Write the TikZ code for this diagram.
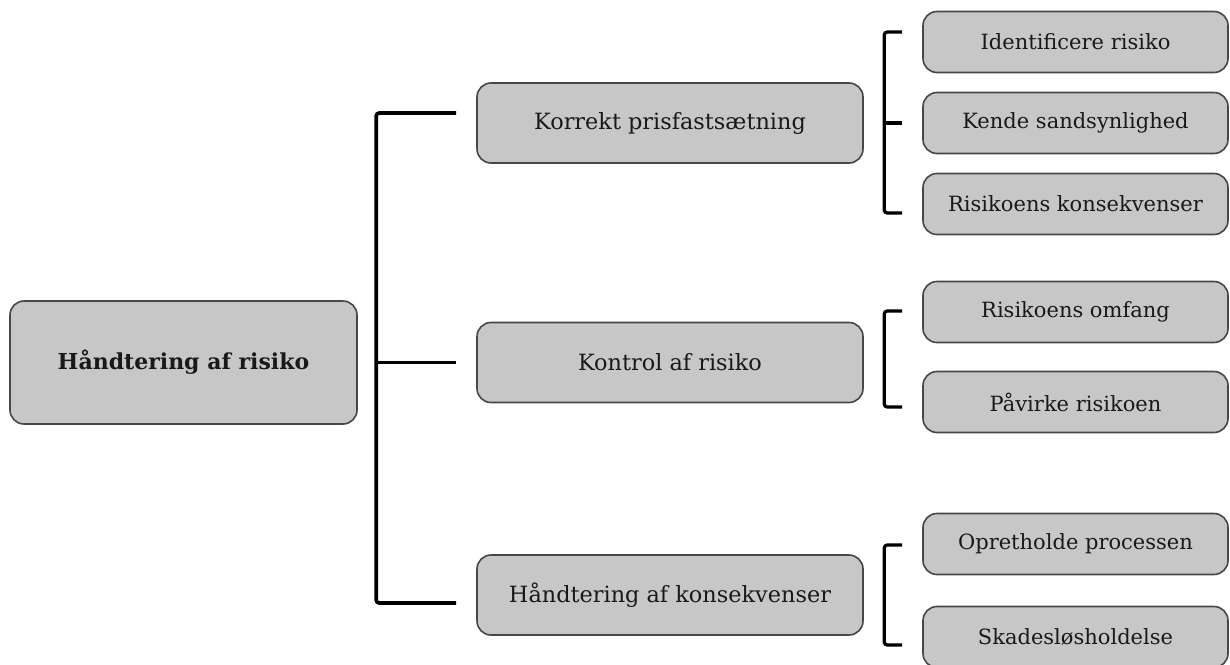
\documentclass[tikz,border=0pt]{standalone}
\usepackage{fontspec}
\setmainfont{DejaVu Serif}
\usepackage{xcolor}
\definecolor{boxgray}{rgb}{0.78, 0.78, 0.78}
\definecolor{edgegray}{rgb}{0.28, 0.28, 0.28}
\newcommand\bcol{boxgray}

\begin{document}
\begin{tikzpicture}[
    x=0.5pt, y=-0.5pt,
    box/.style={draw=edgegray, fill=\bcol, line width=0.8pt, rounded corners=7pt, align=center, inner sep=0pt, text=black!90},
    rootbox/.style={box, minimum width=173.5pt, minimum height=61.5pt, font=\fontsize{11}{14}\selectfont\bfseries},
    midbox/.style={box, minimum width=193pt, minimum height=40pt, font=\fontsize{11.2}{14}\selectfont},
    leafbox/.style={box, minimum width=152.5pt, minimum height=30.5pt, font=\fontsize{10.5}{13}\selectfont},
    bracket/.style={draw=black, line width=1.6pt, rounded corners=1.5pt}
  ]
    \useasboundingbox (0,0) rectangle (1230,664);

    \node[rootbox] (root) at (183.5, 362.5) {Håndtering af risiko};

    \node[midbox] (korrekt) at (670, 123) {Korrekt prisfastsætning};
    \node[midbox] (kontrol) at (670, 362.5) {Kontrol af risiko};
    \node[midbox] (konsek) at (670, 595) {Håndtering af konsekvenser};

    \node[leafbox] (ident) at (1075.5, 42) {Identificere risiko};
    \node[leafbox] (kende) at (1075.5, 123) {Kende sandsynlighed};
    \node[leafbox] (rkons) at (1075.5, 204) {Risikoens konsekvenser};
    \node[leafbox] (omfang) at (1075.5, 312) {Risikoens omfang};
    \node[leafbox] (paavirke) at (1075.5, 402) {Påvirke risikoen};
    \node[leafbox] (opret) at (1075.5, 544) {Opretholde processen};
    \node[leafbox] (skades) at (1075.5, 637) {Skadesløsholdelse};

    % main bracket
    \draw[bracket, line width=1.8pt] ([xshift=-10pt,yshift=5pt]korrekt.west) -| ([xshift=-50pt,yshift=-4pt]konsek.west) -- ([xshift=-10pt,yshift=-4pt]konsek.west);
    \draw[bracket, line width=1.8pt] ([xshift=10pt]root.east) -- ([xshift=-10pt]kontrol.west);

    % right brackets
    \draw[bracket] ([xshift=-10pt,yshift=5pt]ident.west) -| ([xshift=-19pt,yshift=-4.5pt]rkons.west) -- ([xshift=-10pt,yshift=-4.5pt]rkons.west);
    \draw[bracket] ([xshift=11pt]korrekt.east) -- ([xshift=-10pt]kende.west);

    \draw[bracket] ([xshift=-10pt,yshift=0.5pt]omfang.west) -| ([xshift=-19pt,yshift=-2.5pt]paavirke.west) -- ([xshift=-10pt,yshift=-2.5pt]paavirke.west);

    \draw[bracket] ([xshift=-10pt,yshift=-0.5pt]opret.west) -| ([xshift=-19pt,yshift=-4pt]skades.west) -- ([xshift=-10pt,yshift=-4pt]skades.west);

  \end{tikzpicture}
\end{document}
